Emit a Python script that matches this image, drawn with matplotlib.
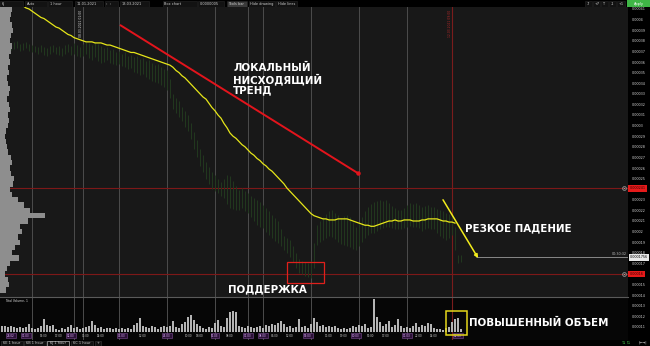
import numpy as np
import matplotlib
matplotlib.use("Agg")
import matplotlib.pyplot as plt
from matplotlib.patches import Rectangle
from matplotlib.ticker import FixedLocator, FuncFormatter

# prices are kept in units of 1e-5 (37.5 -> 0.000375), one value per hourly bar
bar_high = [
    38.0, 37.9, 38.1, 37.8, 37.9, 38.0, 37.7, 37.8, 37.9, 37.7,
    37.6, 37.5, 37.4, 37.6, 37.4, 37.3, 37.5, 37.6, 37.4, 37.5,
    37.3, 37.6, 37.7, 37.5, 37.8, 37.6, 37.4, 37.7, 37.9, 37.8,
    37.6, 37.9, 37.7, 37.5, 37.3, 37.4, 37.1, 37.2, 36.9, 37.0,
    36.8, 36.9, 36.6, 36.7, 36.5, 36.6, 36.3, 36.4, 36.1, 36.2,
    35.9, 35.7, 35.8, 35.5, 35.3, 35.2, 34.4, 33.0, 32.6, 32.3,
    31.8, 31.4, 31.0, 30.2, 29.4, 28.6, 27.8, 27.2, 26.6, 26.1,
    25.6, 25.3, 25.0, 24.7, 25.0, 25.3, 25.2, 24.8, 24.3, 23.9,
    24.1, 23.8, 23.6, 23.4, 23.2, 23.0, 22.8, 22.5, 22.2, 21.9,
    21.6, 21.3, 21.0, 20.2, 19.6, 19.4, 19.2, 18.6, 18.0, 17.4,
    17.2, 17.1, 17.0, 17.2, 18.9, 20.6, 21.0, 21.4, 21.7, 21.9,
    22.0, 21.8, 21.6, 21.3, 21.5, 21.6, 21.4, 20.9, 20.4, 20.8,
    21.4, 21.9, 22.3, 22.6, 22.8, 22.9, 23.0, 22.9, 23.0, 22.7,
    22.4, 22.2, 22.0, 22.0, 22.2, 22.5, 22.7, 22.6, 22.7, 22.5,
    22.3, 22.4, 22.5, 22.3, 22.3, 22.1, 22.0, 21.9, 21.8, 21.7,
    21.6, 20.4, 17.8, 17.8,
]
bar_low = [
    37.2, 37.3, 37.4, 37.1, 37.2, 37.3, 37.0, 37.1, 37.3, 37.0,
    36.9, 36.9, 36.8, 36.9, 36.7, 36.6, 36.8, 36.9, 36.8, 36.7,
    36.6, 36.8, 36.9, 36.7, 36.8, 36.6, 36.5, 36.6, 36.8, 36.4,
    36.2, 36.5, 36.1, 35.9, 36.0, 36.2, 35.9, 35.8, 35.7, 35.8,
    35.6, 35.5, 35.3, 35.4, 35.1, 35.0, 34.8, 34.9, 34.6, 34.4,
    34.2, 34.1, 34.0, 33.8, 33.6, 33.4, 32.6, 31.6, 31.2, 30.8,
    30.4, 29.9, 29.5, 28.7, 27.8, 27.0, 26.2, 25.6, 25.0, 24.5,
    24.0, 23.8, 23.6, 23.4, 23.2, 22.6, 22.2, 22.1, 22.0, 22.0,
    22.2, 21.9, 21.8, 21.4, 21.0, 20.6, 20.4, 20.3, 20.0, 19.7,
    19.4, 19.1, 18.9, 18.6, 18.3, 18.0, 17.6, 17.1, 16.6, 16.1,
    16.0, 15.8, 15.7, 15.6, 16.6, 18.7, 19.0, 19.2, 19.4, 19.6,
    19.5, 19.3, 19.0, 18.8, 18.7, 18.6, 18.5, 18.4, 18.3, 18.6,
    19.0, 19.4, 19.7, 19.9, 19.9, 20.1, 20.2, 20.3, 20.4, 20.4,
    20.3, 20.2, 20.2, 20.2, 20.3, 20.4, 20.5, 20.4, 20.4, 20.3,
    20.1, 20.2, 20.3, 20.2, 20.2, 19.9, 19.6, 19.4, 19.2, 19.4,
    19.7, 18.3, 17.0, 17.1,
]
ma_line = [
    42.6, 42.4, 42.2, 42.0, 41.8, 41.7, 41.5, 41.3, 41.1, 41.0,
    40.8, 40.6, 40.4, 40.2, 40.1, 39.9, 39.7, 39.5, 39.3, 39.2,
    39.0, 38.8, 38.6, 38.5, 38.3, 38.2, 38.1, 38.0, 37.9, 37.9,
    37.9, 37.8, 37.8, 37.8, 37.7, 37.6, 37.6, 37.5, 37.4, 37.3,
    37.2, 37.1, 37.0, 36.9, 36.9, 36.8, 36.7, 36.6, 36.5, 36.4,
    36.3, 36.2, 36.1, 36.0, 35.9, 35.8, 35.7, 35.5, 35.2, 35.0,
    34.7, 34.5, 34.2, 33.9, 33.6, 33.3, 33.0, 32.7, 32.5, 32.1,
    31.7, 31.4, 31.0, 30.7, 30.2, 29.8, 29.3, 29.0, 28.8, 28.5,
    28.2, 28.0, 27.7, 27.4, 27.2, 26.9, 26.7, 26.4, 26.2, 25.9,
    25.7, 25.4, 25.1, 24.8, 24.5, 24.1, 23.8, 23.5, 23.2, 22.9,
    22.6, 22.3, 22.0, 21.7, 21.5, 21.4, 21.3, 21.2, 21.2, 21.1,
    21.1, 21.1, 21.2, 21.2, 21.2, 21.2, 21.1, 21.0, 20.9, 20.8,
    20.7, 20.6, 20.6, 20.5, 20.5, 20.6, 20.7, 20.8, 20.9, 21.0,
    21.0, 21.1, 21.0, 21.0, 21.1, 21.1, 21.1, 21.0, 21.0, 21.0,
    21.1, 21.1, 21.2, 21.2, 21.2, 21.2, 21.1, 21.0, 21.0, 20.9,
    20.9, 20.8, np.nan, np.nan,
]
volume = [
    600, 600, 500, 600, 500, 400, 500, 400, 500, 800,
    400, 300, 400, 600, 1300, 700, 600, 700, 300, 200,
    400, 300, 500, 700, 400, 500, 300, 400, 500, 600,
    1100, 700, 400, 500, 300, 400, 400, 300, 400, 300,
    400, 300, 400, 300, 700, 900, 1400, 600, 500, 400,
    600, 500, 300, 500, 600, 500, 600, 1100, 500, 400,
    800, 1000, 1500, 1700, 1200, 800, 600, 400, 300, 500,
    400, 900, 1200, 600, 500, 1400, 2000, 2100, 2000, 600,
    500, 400, 600, 500, 400, 500, 600, 400, 700, 600,
    800, 700, 900, 1100, 800, 500, 600, 400, 500, 1300,
    500, 600, 400, 800, 1400, 1000, 600, 700, 500, 600,
    500, 600, 400, 300, 400, 300, 400, 600, 500, 700,
    600, 800, 400, 500, 3300, 1500, 1000, 600, 800, 1100,
    500, 700, 1300, 600, 400, 500, 400, 600, 900, 500,
    700, 600, 900, 800, 400, 300, 300, 200, 400, 500,
    1000, 1300, 1400, 300,
]
# volume profile on the left edge, price ladder from 0.00041 down to 0.000145
profile_levels = np.arange(41.0, 14.4, -0.5)
profile_volume = [
    1200, 1100, 1000, 1200, 1300, 1100, 1000, 1200, 1100, 900,
    1000, 800, 900, 700, 800, 1000, 900, 700, 900, 1000,
    800, 900, 800, 600, 500, 600, 700, 800, 1100, 1200,
    1000, 1100, 1400, 1300, 1000, 1200, 1800, 2400, 3000, 4500,
    2800, 2000, 2200, 1800, 2000, 1500, 1200, 1900, 1000, 700,
    500, 800, 900, 600,
]
# axis labels at 0.00024 and 0.00016 sit under the red level boxes
price_ticks = [11, 12, 13, 14, 15, 17, 18, 19, 20, 21, 22, 23, 25, 26, 27, 28,
               29, 30, 31, 32, 33, 34, 35, 36, 37, 38, 39, 40, 41]
session_bars = [10, 24, 27, 39, 55, 71, 82, 87, 103, 119, 135]
marker_bar = 150
resistance_level = 24.1
support_level = 16.0
last_price = 17.56
tick_bars = [3, 8, 14, 19, 23, 28, 33, 40, 47, 55, 62, 66, 71, 76,
             82, 87, 91, 96, 102, 109, 114, 118, 123, 128, 135, 139, 144, 152]
tick_labels = ["26.02", "01.03", "09:00", "17:00", "02.03", "01:00", "14:00",
               "03.03", "12:00", "04.03", "10:00", "18:00", "05.03", "08:00",
               "07.03", "08.03", "06:00", "12:00", "09.03", "11:00", "19:00",
               "10.03", "05:00", "17:00", "11.03", "22:00", "14:00", "12.03"]

W, H = 650, 346
PX = 10.6          # pixels per price point on screen


def rect(x0, y0, x1, y1):
    # pixel box (top-left origin) -> figure fraction
    return [x0 / W, 1 - y1 / H, (x1 - x0) / W, (y1 - y0) / H]


fig = plt.figure(figsize=(6.5, 3.46), dpi=100, facecolor="black")
idx = np.arange(len(volume))
xlim = (-2 / 3, 626 / 3)
ylim = (41 - 331 / PX, 41 + 2 / PX)

# ---- price pane ----
ax = fig.add_axes(rect(0, 7, 628, 340), facecolor="#181818")
ax.set_xlim(*xlim)
ax.set_ylim(*ylim)
for s in ax.spines.values():
    s.set_visible(False)
ax.tick_params(axis="x", bottom=False, labelbottom=False)
ax.yaxis.tick_right()
ax.yaxis.set_major_locator(FixedLocator(price_ticks))
ax.yaxis.set_major_formatter(FuncFormatter(lambda v, p: ("%.5f" % (v * 1e-5)).rstrip("0")))
ax.tick_params(axis="y", length=0, pad=2.5, labelsize=2.4, labelcolor="#d0d0d0")

for b in session_bars:
    ax.axvline(b, color="#4c4c4c", lw=0.7, zorder=0.5)
ax.axvline(marker_bar, color="#7a1c1c", lw=0.8, zorder=0.5)
ax.axhline(resistance_level, color="#7d1818", lw=0.8, zorder=0.6)
ax.axhline(support_level, color="#7d1818", lw=0.8, zorder=0.6)

ax.vlines(idx, bar_low, bar_high, color="#22381f", lw=0.7, zorder=1)
ax.plot(idx, ma_line, color="#e6e619", lw=0.9, zorder=2)

# current price line and axis boxes
ax.hlines(last_price, 158, xlim[1], color="#9a9a9a", lw=0.6, zorder=2)
ax.text(0.998, last_price + 0.15, "00:30:32", transform=ax.get_yaxis_transform(),
        ha="right", va="bottom", fontsize=2.4, color="#bdbdbd")
yt = ax.get_yaxis_transform()
ax.text(1.003, last_price, "0.0001756", transform=yt, ha="left", va="center",
        fontsize=2.4, color="black", clip_on=False,
        bbox=dict(fc="#e8e8e8", ec="none", pad=0.8))
for lvl, lab in [(resistance_level, "0.000241"), (support_level, "0.00016")]:
    ax.text(1.003, lvl, lab, transform=yt, ha="left", va="center", fontsize=2.4,
            color="#3a0000", clip_on=False, bbox=dict(fc="#e51a1a", ec="none", pad=1.0))
    ax.plot([207.3], [lvl], "o", mfc="none", mec="#9a9a9a", ms=2.8, mew=0.5)
    ax.plot([207.3], [lvl], "x", color="#9a9a9a", ms=1.5, mew=0.4)

ax.text(26.3, 40.9, "08.03.2021 01:00", rotation=90, fontsize=2.2, color="#d8d8d8",
        ha="center", va="top")
ax.text(149.3, 40.9, "12.03.2021 09:00", rotation=90, fontsize=2.2, color="#b02828",
        ha="center", va="top")

# drawings
ax.plot([39.3, 118.7], [39.5, 25.5], color="#e3141c", lw=1.4, solid_capstyle="butt", zorder=4)
ax.plot([118.7], [25.5], "o", color="#e3141c", ms=2.2, zorder=4)
ax.annotate("", xy=(158.7, 17.5), xytext=(147, 23.0),
            arrowprops=dict(arrowstyle="-|>", color="#f2ec1c", lw=1.1,
                            mutation_scale=5, shrinkA=0, shrinkB=0), zorder=4)
ax.add_patch(Rectangle((95, 15.15), 12.3, 1.98, fill=False, ec="#e0201c", lw=0.9, zorder=4))

txt = dict(color="white", fontsize=7.4, fontweight="bold", ha="left", va="center", zorder=5)
ax.text(77, 34.4, "ЛОКАЛЬНЫЙ\nНИСХОДЯЩИЙ\nТРЕНД", linespacing=1.05, **txt)
ax.text(154.3, 20.3, "РЕЗКОЕ ПАДЕНИЕ", **txt)
ax.text(75.3, 14.55, "ПОДДЕРЖКА", **txt)

# ---- volume profile overlay ----
ax_prof = fig.add_axes(rect(0, 7, 628, 340))
ax_prof.set_xlim(0, 62800)
ax_prof.set_ylim(*ylim)
ax_prof.barh(profile_levels, profile_volume, height=0.5, color="#8e8e8e", lw=0)
ax_prof.axis("off")
ax_prof.patch.set_alpha(0)

# ---- volume pane ----
ax_vol = fig.add_axes(rect(0, 297, 628, 340), facecolor="#060606")
ax_vol.set_xlim(*xlim)
ax_vol.set_ylim(-800, 3500)
ax_vol.set_xticks([])
ax_vol.set_yticks([])
for name, s in ax_vol.spines.items():
    s.set_visible(name == "top")
ax_vol.spines["top"].set_color("#5a5a5a")
ax_vol.spines["top"].set_linewidth(0.8)
for b in session_bars:
    ax_vol.axvline(b, color="#4c4c4c", lw=0.7, zorder=0.5)
ax_vol.axvline(marker_bar, color="#7a1c1c", lw=0.8, zorder=0.5)
ax_vol.bar(idx, volume, width=0.7, color="#b4b4b4", lw=0)
ax_vol.text(1, 3100, "Total Volume, 1", fontsize=2.2, color="#dddddd", ha="left", va="center")
for b, lab in zip(tick_bars, tick_labels):
    if "." in lab:
        ax_vol.text(b, -380, lab, fontsize=2.0, ha="center", va="center", color="#e2b4ff",
                    bbox=dict(fc="#2c1238", ec="#7a4a90", lw=0.4, pad=0.5))
    else:
        ax_vol.text(b, -380, lab, fontsize=2.0, ha="center", va="center", color="#c8c8c8")
ax_vol.add_patch(Rectangle((148, -300), 7, 2400, fill=False, ec="#e6d81a", lw=1.1,
                           clip_on=False, zorder=4))
ax_vol.text(155.7, 950, "ПОВЫШЕННЫЙ ОБЪЕМ", **txt)

# ---- toolbar and tabs ----
ax_bar = fig.add_axes(rect(0, 0, 650, 7))
ax_bar.set_xlim(0, 650)
ax_bar.set_ylim(7, 0)
ax_bar.axis("off")
bar_items = [(0, 23, "6J"), (25, 47, "Auto"), (48, 72, "1 hour"), (75, 103, "11.01.2021"),
             (105, 118, "\u2039  \u203a"), (120, 149, "13.03.2021"), (163, 197, "Box chart"),
             (198, 224, "0.0000005"), (227, 247, "Tools bar"), (249, 275, "Hide drawing"),
             (276, 297, "Hide lines"), (585, 592, "-7"), (593, 600, "+7"), (601, 608, "T"),
             (609, 616, "-1"), (617, 625, "+1")]
for x0, x1, lab in bar_items:
    fc = "#3a3a3a" if lab == "Tools bar" else "#121212"
    ax_bar.add_patch(Rectangle((x0, 0.5), x1 - x0, 6, fc=fc, ec="#262626", lw=0.4))
    ax_bar.text(x0 + 1.5, 3.6, lab, fontsize=2.5, color="#d0d0d0", ha="left", va="center")
ax_bar.add_patch(Rectangle((627, 0), 23, 7, fc="#3fb546", ec="none"))
ax_bar.text(638.5, 3.6, "Apply", fontsize=2.5, color="white", ha="center", va="center")

ax_tab = fig.add_axes(rect(0, 340, 650, 346))
ax_tab.set_xlim(0, 650)
ax_tab.set_ylim(6, 0)
ax_tab.axis("off")
for x0, x1, lab in [(1, 23, "6E 1 hour"), (24, 46, "6B 1 hour"), (47, 69, "6J 1 hour"),
                    (71, 93, "6C 1 hour"), (95, 101, "+")]:
    ec = "#e0e0e0" if lab == "6J 1 hour" else "#3a3a3a"
    ax_tab.add_patch(Rectangle((x0, 0.5), x1 - x0, 5, fc="#101010", ec=ec, lw=0.4))
    ax_tab.text((x0 + x1) / 2, 3.1, lab, fontsize=2.5, color="#d0d0d0", ha="center", va="center")
ax_tab.text(626, 3, "\u21c5 \u21c5", fontsize=3, color="#3fb546", ha="center", va="center")
ax_tab.text(643, 3, "|\u2190\u2192|", fontsize=2.6, color="#d0d0d0", ha="center", va="center")

fig.savefig("out.png", dpi=100, facecolor="black")
